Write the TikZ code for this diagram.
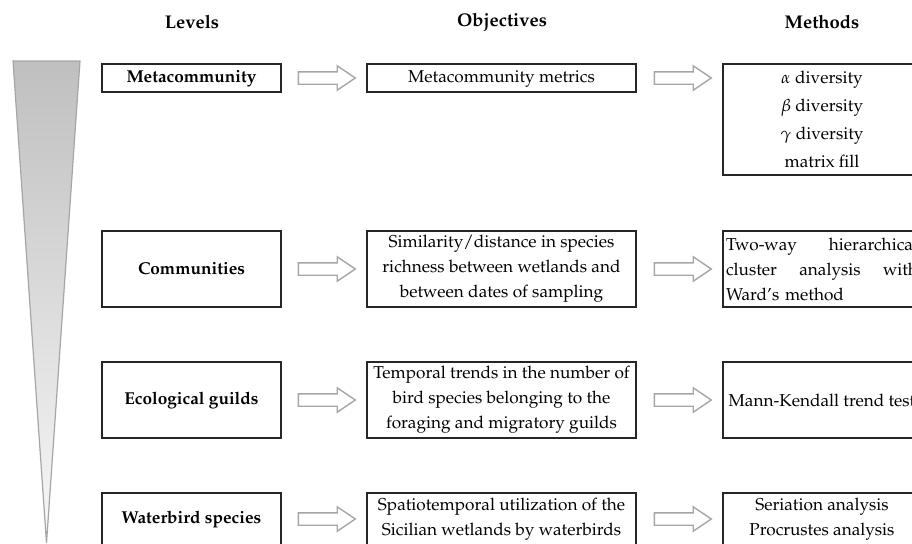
\documentclass[tikz,border=0pt]{standalone}
\usepackage[T1]{fontenc}
\usepackage{mathpazo}
\usepackage{tikz}
\usetikzlibrary{shapes.arrows, positioning}

\tikzset{
  every node/.style = {font=\fontsize{8.6}{12.5}\selectfont},
  head/.style = {font=\fontsize{9.2}{11}\selectfont\bfseries},
  box/.style = {draw=black!85, line width=0.6pt, fill=white, align=center, inner sep=0pt},
  levbox/.style = {box, minimum width=89.5pt, font=\fontsize{8.6}{12.5}\selectfont\bfseries},
  objbox/.style = {box, minimum width=134.5pt},
  metbox/.style = {box, minimum width=99pt},
  blockarrow/.style = {single arrow, draw=black!35, line width=0.7pt, fill=white,
    minimum height=28.5pt, inner xsep=0pt, inner ysep=2.75pt,
    single arrow head extend=3pt, single arrow tip angle=68, single arrow head indent=0pt}
}

\begin{document}
\begin{tikzpicture}[x=0.5pt, y=-0.5pt]
    \useasboundingbox (0,0) rectangle (912,543);
    \clip (0,0) rectangle (912,543);

    % funnel
    \shade [top color=black!25, bottom color=black!3, draw=black!35, line width=0.6pt]
      (13,61) -- (80,61) -- (46.5,543) -- cycle;

    \node [head] (hlev) at (192,22) {Levels};
    \node [head] (hobj) at (502,22) {Objectives};
    \node [head] (hmet) at (822,22) {Methods};

    % level boxes
    \node (lev1) [levbox, minimum height=14pt, text depth=0.3ex] at (191.5,78) {Metacommunity};
    \node (lev2) [levbox, minimum height=38pt] at (191.5,269) {Communities};
    \node (lev3) [levbox, minimum height=38pt] at (191.5,400) {Ecological guilds};
    \node (lev4) [levbox, minimum height=26pt] at (191.5,519) {Waterbird species};

    % objective boxes
    \node (obj1) [objbox, minimum height=14pt, text depth=0.3ex] at (501.5,78) {Metacommunity metrics};
    \node (obj2) [objbox, minimum height=38pt] at (501.5,269)
      {Similarity/distance in species\\richness between wetlands and\\between dates of sampling};
    \node (obj3) [objbox, minimum height=38pt] at (501.5,400)
      {Temporal trends in the number of\\bird species belonging to the\\foraging and migratory guilds};
    \node (obj4) [objbox, minimum height=26pt] at (501.5,519)
      {Spatiotemporal utilization of the\\Sicilian wetlands by waterbirds};

    % method boxes
    \node (met1) [metbox, minimum height=55.5pt, font=\fontsize{8.6}{14}\selectfont] at (822,119.5)
      {$\alpha$ diversity\\$\beta$ diversity\\$\gamma$ diversity\\matrix fill};
    \node (met2) [metbox, minimum height=38pt, text width=96pt, align=left] at (822,269)
      {Two-way\hfill hierarchical\\cluster\hfill analysis\hfill with\\Ward's method};
    \node (met3) [metbox, minimum height=38pt] at (822,400) {Mann-Kendall trend test};
    \node (met4) [metbox, minimum height=26pt] at (822,519)
      {Seriation analysis\\Procrustes analysis};

    % hollow arrows
    \foreach \r in {1,...,4} {
      \node (la\r) [blockarrow, right=8pt of lev\r] {};
      \node (oa\r) [blockarrow, right=8.5pt of obj\r] {};
    }
\end{tikzpicture}
\end{document}
